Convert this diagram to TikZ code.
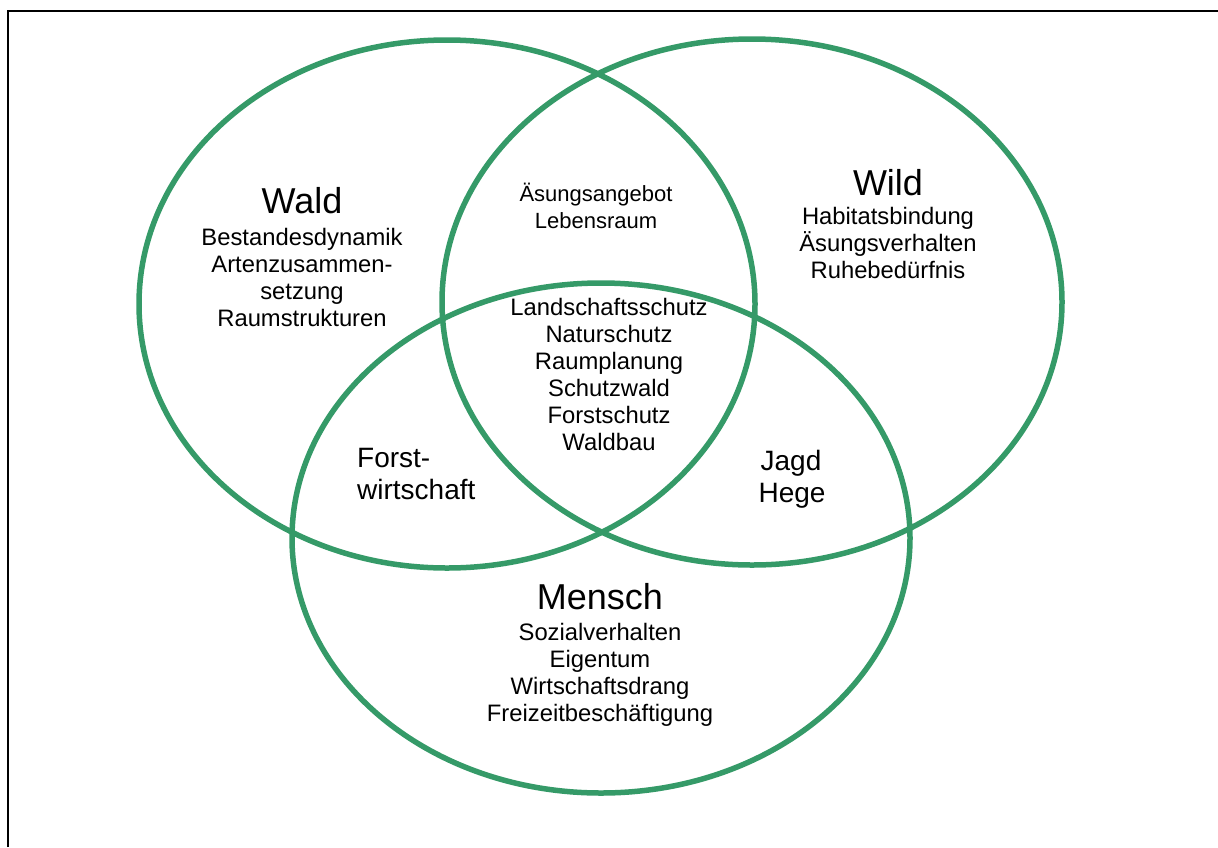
\documentclass[tikz,border=0pt]{standalone}
\usepackage{fontspec}
\setmainfont{Liberation Sans}
\definecolor{venngreen}{RGB}{53,154,104}
\begin{document}
\begin{tikzpicture}[x=1pt,y=-1pt,
  ring/.style={draw=venngreen,line width=5.5pt},
  big/.style={font=\fontsize{36}{40}\selectfont,inner sep=0pt,anchor=base},
  mid/.style={font=\fontsize{28}{32}\selectfont,inner sep=0pt,anchor=base},
  small/.style={font=\fontsize{23.8}{27}\selectfont,inner sep=0pt,anchor=base},
  smaller/.style={font=\fontsize{22}{27}\selectfont,inner sep=0pt,anchor=base}]
\useasboundingbox (0,0) rectangle (1218,847);
\draw[line width=2.6pt] (8,847) -- (8,11) -- (1218,11);
\draw[ring] (447,304) ellipse [x radius=308, y radius=264];
\draw[ring] (752,302) ellipse [x radius=310, y radius=263];
\draw[ring] (601,538) ellipse [x radius=309, y radius=255];
% Wald
\node[big] (wald) at (302,213) {Wald};
\node[small] (w1) at (302,245) {Bestandesdynamik};
\node[small] (w2) at (302,272) {Artenzusammen-};
\node[small] (w3) at (302,299) {setzung};
\node[small] (w4) at (302,326) {Raumstrukturen};
% Wild
\node[big] (wild) at (888,195) {Wild};
\node[small] (d1) at (888,224) {Habitatsbindung};
\node[small] (d2) at (888,251) {Äsungsverhalten};
\node[small] (d3) at (888,278) {Ruhebedürfnis};
% Wald & Wild
\node[smaller] (ww1) at (596,201) {Äsungsangebot};
\node[smaller] (ww2) at (596,228) {Lebensraum};
% centre
\node[small] (c1) at (609,315) {Landschaftsschutz};
\node[small] (c2) at (609,342) {Naturschutz};
\node[small] (c3) at (609,369) {Raumplanung};
\node[small] (c4) at (609,396) {Schutzwald};
\node[small] (c5) at (609,423) {Forstschutz};
\node[small] (c6) at (609,450) {Waldbau};
% Wald & Mensch
\node[mid,anchor=base west] (f1) at (357,467) {Forst-};
\node[mid,anchor=base west] (f2) at (357,499) {wirtschaft};
% Wild & Mensch
\node[mid] (j1) at (791,470) {Jagd};
\node[mid] (j2) at (792,502) {Hege};
% Mensch
\node[big] (mensch) at (600,609) {Mensch};
\node[small] (m1) at (600,640) {Sozialverhalten};
\node[small] (m2) at (600,667) {Eigentum};
\node[small] (m3) at (600,694) {Wirtschaftsdrang};
\node[small] (m4) at (600,721) {Freizeitbeschäftigung};
\end{tikzpicture}
\end{document}
